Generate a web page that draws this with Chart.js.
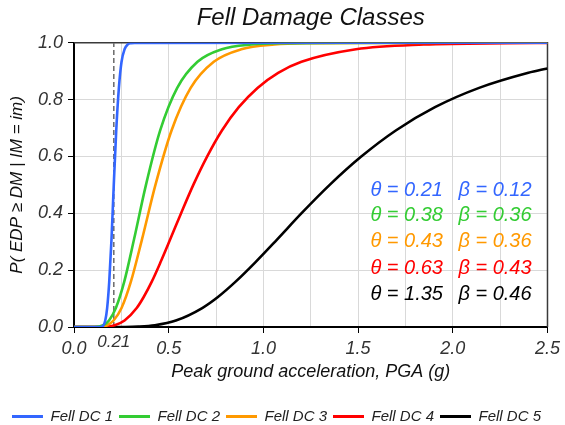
<!DOCTYPE html>
<html>
<head>
<meta charset="utf-8">
<script src="https://cdn.jsdelivr.net/npm/chart.js@4.4.1/dist/chart.umd.min.js"></script>
<style>
html,body{margin:0;padding:0;background:#ffffff;}
#wrap{width:565px;height:425px;}
</style>
</head>
<body>
<div id="wrap"><canvas id="c" width="565" height="425"></canvas></div>
<script>
// ---- data ----
const seriesLabels = ['Fell DC 1', 'Fell DC 2', 'Fell DC 3', 'Fell DC 4', 'Fell DC 5'];
const seriesColors = ['#3366FF', '#33CC33', '#FF9900', '#FF0000', '#000000'];

const dc1X = [0, 0.138, 0.147, 0.156, 0.165, 0.175, 0.186, 0.198, 0.210, 0.223, 0.237, 0.251, 0.267, 0.283, 0.301, 0.320, 2.5];
const dc1Y = [0, 0.0002, 0.0013, 0.0062, 0.0228, 0.0668, 0.1587, 0.3085, 0.5, 0.6915, 0.8413, 0.9332, 0.9772, 0.9938, 0.9987, 0.9998, 1];

const dc2X = [0, 0.108, 0.129, 0.155, 0.185, 0.221, 0.265, 0.317, 0.380, 0.455, 0.545, 0.652, 0.781, 0.935, 1.119, 1.340, 2.5];
const dc2Y = [0, 0.0002, 0.0013, 0.0062, 0.0228, 0.0668, 0.1587, 0.3085, 0.5, 0.6915, 0.8413, 0.9332, 0.9772, 0.9938, 0.9987, 0.9998, 1];

const dc3X = [0, 0.122, 0.146, 0.175, 0.209, 0.251, 0.300, 0.359, 0.430, 0.515, 0.616, 0.738, 0.883, 1.058, 1.266, 1.516, 2.5];
const dc3Y = [0, 0.0002, 0.0013, 0.0062, 0.0228, 0.0668, 0.1587, 0.3085, 0.5, 0.6915, 0.8413, 0.9332, 0.9772, 0.9938, 0.9987, 0.9998, 1];

const dc4X = [0, 0.140, 0.173, 0.215, 0.267, 0.331, 0.368, 0.410, 0.456, 0.508, 0.566, 0.630, 0.702, 0.781, 0.870, 0.969, 1.078, 1.201, 1.489, 1.846, 2.289, 2.5];
const dc4Y = [0, 0.0002, 0.0013, 0.0062, 0.0228, 0.0668, 0.1056, 0.1587, 0.2266, 0.3085, 0.4013, 0.5, 0.5987, 0.6915, 0.7734, 0.8413, 0.8944, 0.9332, 0.9772, 0.9938, 0.9987, 0.9993];

const dc5X = [0, 0.270, 0.340, 0.427, 0.538, 0.677, 0.760, 0.852, 0.956, 1.073, 1.203, 1.350, 1.515, 1.699, 1.906, 2.139, 2.399, 2.5];
const dc5Y = [0, 0.0002, 0.0013, 0.0062, 0.0228, 0.0668, 0.1056, 0.1587, 0.2266, 0.3085, 0.4013, 0.5, 0.5987, 0.6915, 0.7734, 0.8413, 0.8944, 0.9099];

const thetas = [0.21, 0.38, 0.43, 0.63, 1.35];
const betas  = [0.12, 0.36, 0.36, 0.43, 0.46];

const markValue = 0.21;          // dashed reference line / extra tick label
const markLabel = '0.21';
const annoThetaX = 1.565;        // text anchor (data units)
const annoBetaX = 2.03;
const annoRowY = [0.482, 0.392, 0.300, 0.207, 0.115];

const xMin = 0, xMax = 2.5, xGridStep = 0.25, xLabelStep = 0.5;
const yMin = 0, yMax = 1, yStep = 0.2;

// ---- build ----
const FONT = '"Liberation Sans", Arial, Helvetica, sans-serif';
Chart.defaults.font.family = FONT;

const xs = [dc1X, dc2X, dc3X, dc4X, dc5X];
const ys = [dc1Y, dc2Y, dc3Y, dc4Y, dc5Y];

const datasets = seriesLabels.map((lab, i) => ({
  label: lab,
  data: xs[i].map((x, k) => ({x: x, y: ys[i][k]})),
  borderColor: seriesColors[i],
  backgroundColor: seriesColors[i],
  borderWidth: 2.6,
  pointRadius: 0,
  cubicInterpolationMode: 'monotone',
  fill: false
}));
datasets.push({
  label: 'mark',
  data: [{x: markValue, y: yMin}, {x: markValue, y: yMax}],
  borderColor: '#707070',
  borderWidth: 1.6,
  borderDash: [5, 3],
  pointRadius: 0,
  fill: false
});

const isLabelTick = v => Math.abs(v / xLabelStep - Math.round(v / xLabelStep)) < 1e-6;

const extras = {
  id: 'extras',
  beforeDatasetsDraw(chart) {
    const {ctx, chartArea: a} = chart;
    ctx.save();
    ctx.strokeStyle = '#3a3a3a';
    ctx.lineWidth = 1.5;
    ctx.beginPath();
    ctx.moveTo(a.left, a.top);
    ctx.lineTo(a.right, a.top);
    ctx.lineTo(a.right, a.bottom);
    ctx.stroke();
    ctx.restore();
  },
  afterDatasetsDraw(chart) {
    const {ctx, scales: {x, y}} = chart;
    ctx.save();
    ctx.font = 'italic 20px ' + FONT;
    ctx.textBaseline = 'middle';
    ctx.textAlign = 'left';
    thetas.forEach((t, i) => {
      ctx.fillStyle = seriesColors[i];
      const py = y.getPixelForValue(annoRowY[i]);
      ctx.fillText('\u03B8 = ' + t.toFixed(2), x.getPixelForValue(annoThetaX), py);
      ctx.fillText('\u03B2 = ' + betas[i].toFixed(2), x.getPixelForValue(annoBetaX), py);
    });
    ctx.font = 'italic 17px ' + FONT;
    ctx.fillStyle = '#333333';
    ctx.textAlign = 'center';
    ctx.fillText(markLabel, x.getPixelForValue(markValue), y.bottom + 15);
    ctx.restore();
  }
};

new Chart(document.getElementById('c'), {
  type: 'line',
  data: {datasets},
  plugins: [extras],
  options: {
    responsive: false,
    animation: false,
    devicePixelRatio: 1,
    layout: {padding: {left: 0, right: 12, top: 0, bottom: -9}},
    plugins: {
      tooltip: {enabled: false},
      title: {
        display: true,
        text: 'Fell Damage Classes',
        fullSize: false,
        color: '#111111',
        font: {size: 24, style: 'italic', weight: 'normal'},
        padding: {top: 4, bottom: 10}
      },
      legend: {
        position: 'bottom',
        labels: {
          boxWidth: 31,
          boxHeight: 3,
          padding: 6,
          color: '#222222',
          font: {size: 15, style: 'italic'},
          generateLabels(chart) {
            const items = Chart.defaults.plugins.legend.labels.generateLabels(chart);
            return items.filter(it => it.datasetIndex < seriesLabels.length)
              .map(it => Object.assign(it, {lineWidth: 0, strokeStyle: 'rgba(0,0,0,0)'}));
          }
        }
      }
    },
    scales: {
      x: {
        type: 'linear',
        min: xMin, max: xMax,
        afterFit: s => { s.height = 76; },
        ticks: {
          stepSize: xGridStep,
          autoSkip: false,
          maxRotation: 0,
          padding: 5,
          color: '#333333',
          font: {size: 18, style: 'italic'},
          callback: v => isLabelTick(v) ? v.toFixed(1) : ''
        },
        grid: {
          color: '#d9d9d9',
          lineWidth: 1,
          tickLength: 6,
          tickColor: c => (c.tick && isLabelTick(c.tick.value)) ? '#000000' : 'rgba(0,0,0,0)'
        },
        border: {color: '#000000', width: 2},
        title: {
          display: true,
          text: 'Peak ground acceleration, PGA (g)',
          color: '#111111',
          font: {size: 18, style: 'italic'},
          padding: {top: 0, bottom: 20}
        }
      },
      y: {
        min: yMin, max: yMax,
        afterFit: s => { s.width = 74; },
        ticks: {
          stepSize: yStep,
          padding: 5,
          color: '#333333',
          font: {size: 18, style: 'italic'},
          callback: v => v.toFixed(1)
        },
        grid: {color: '#d9d9d9', lineWidth: 1, tickLength: 6, tickColor: '#000000'},
        border: {color: '#000000', width: 2},
        title: {
          display: true,
          text: 'P( EDP \u2265 DM | IM = im)',
          color: '#111111',
          font: {size: 17, style: 'italic'},
          padding: {top: 7, bottom: 0}
        }
      }
    }
  }
});
</script>
</body>
</html>
